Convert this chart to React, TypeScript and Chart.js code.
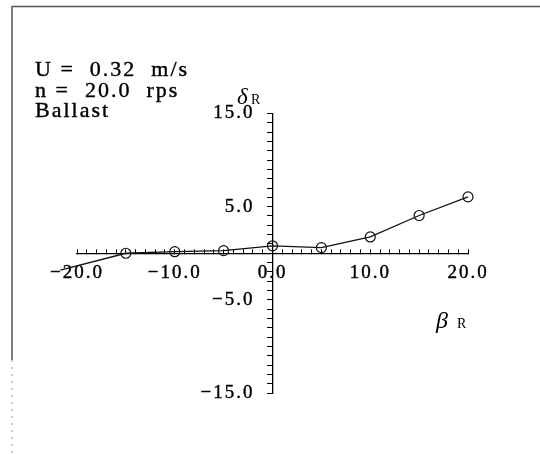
import React, { useEffect, useRef } from "react";
import { Chart, registerables } from "chart.js";

Chart.register(...registerables);

// data
const betaR = [-21.7, -15, -10, -5, 0, 5, 10, 15, 20];
const deltaR = [-1.8, 0.0, 0.17, 0.28, 0.8, 0.6, 1.75, 4.05, 6.05];

const xMin = -20;
const xMax = 20;
const yMin = -15;
const yMax = 15;
const xTickLabels = [-20, -10, 0, 10, 20];
const yTickLabels = [15, 5, -5, -15];
const infoLines = ["U =  0.32  m/s", "n =  20.0  rps", "Ballast"];

const fmt = (v: number) => v.toFixed(1).replace("-", "\u2212");
const SERIF = "'Liberation Serif', 'Times New Roman', serif";
const Y_LABEL_GAP = 18;

const spacingPlugin = {
  id: "spacing",
  beforeLayout(chart: any) {
    chart.ctx.letterSpacing = "2px";
  },
  beforeDraw(chart: any) {
    chart.ctx.letterSpacing = "2px";
  },
};

const framePlugin = {
  id: "frame",
  beforeDraw(chart: any) {
    const ctx = chart.ctx;
    ctx.save();
    ctx.strokeStyle = "#555";
    ctx.lineWidth = 1.5;
    ctx.beginPath();
    ctx.moveTo(12, 6.5);
    ctx.lineTo(540, 6.5);
    ctx.moveTo(12, 6);
    ctx.lineTo(12, 360);
    ctx.stroke();
    ctx.strokeStyle = "#999";
    ctx.lineWidth = 1;
    ctx.setLineDash([2, 5]);
    ctx.beginPath();
    ctx.moveTo(12, 360);
    ctx.lineTo(12, 454);
    ctx.stroke();
    ctx.restore();
  },
  afterDraw(chart: any) {
    const ctx = chart.ctx;
    ctx.save();
    ctx.fillStyle = "#000";
    ctx.strokeStyle = "#000";
    ctx.lineWidth = 0.4;
    ctx.textBaseline = "alphabetic";
    ctx.textAlign = "left";
    ctx.letterSpacing = "2px";
    ctx.font = `22px ${SERIF}`;
    infoLines.forEach((t, i) => {
      ctx.fillText(t, 35, 76 + i * 20.5);
      ctx.strokeText(t, 35, 76 + i * 20.5);
    });
    ctx.letterSpacing = "0px";
    // axis titles
    ctx.font = `italic 23px ${SERIF}`;
    ctx.fillText("\u03b4", 237, 104);
    ctx.font = `14px ${SERIF}`;
    ctx.fillText("R", 251, 104);
    ctx.font = `italic 24px ${SERIF}`;
    ctx.fillText("\u03b2", 436, 328);
    ctx.font = `14px ${SERIF}`;
    ctx.fillText("R", 457, 328);
    ctx.restore();
  },
};

export default function App() {
  const ref = useRef<HTMLCanvasElement>(null);
  useEffect(() => {
    if (!ref.current) return;
    const chart = new Chart(ref.current, {
      type: "line",
      data: {
        datasets: [
          {
            data: betaR.map((x, i) => ({ x, y: deltaR[i] })),
            borderColor: "#111",
            borderWidth: 1.3,
            tension: 0,
            fill: false,
            clip: false as any,
            pointRadius: (c: any) => (c.raw && c.raw.x < xMin ? 0 : 5),
            pointBorderColor: "#111",
            pointBackgroundColor: "rgba(0,0,0,0)",
            pointBorderWidth: 1.2,
          },
        ],
      },
      options: {
        animation: false,
        responsive: false,
        events: [],
        layout: { padding: { left: 77, right: 72, top: 113.5, bottom: 61 } },
        plugins: { legend: { display: false }, tooltip: { enabled: false } },
        scales: {
          x: {
            type: "linear",
            min: xMin,
            max: xMax,
            position: { y: 0 } as any,
            border: { display: true, color: "#000", width: 1.3 },
            grid: {
              drawOnChartArea: false,
              drawTicks: true,
              tickLength: -5,
              color: "#000",
              lineWidth: 1,
            },
            ticks: {
              stepSize: 1,
              autoSkip: false,
              maxRotation: 0,
              padding: 13,
              color: "#000",
              textStrokeColor: "#000",
              textStrokeWidth: 0.4,
              font: { family: SERIF, size: 19 },
              callback: (v: any) => (xTickLabels.includes(Number(v)) ? fmt(Number(v)) : ""),
            },
          },
          y: {
            type: "linear",
            min: yMin,
            max: yMax,
            position: { x: 0 } as any,
            border: { display: true, color: "#000", width: 1.3 },
            grid: {
              drawOnChartArea: false,
              drawTicks: true,
              tickLength: 5,
              color: "#000",
              lineWidth: 1,
            },
            ticks: {
              stepSize: 1,
              autoSkip: false,
              padding: 14,
              color: "#000",
              textStrokeColor: "#000",
              textStrokeWidth: 0.4,
              font: { family: SERIF, size: 19 },
              callback: (v: any) => (yTickLabels.includes(Number(v)) ? fmt(Number(v)) : ""),
            },
            afterUpdate: (scale: any) => {
              if (scale.__patched) return;
              scale.__patched = true;
              const orig = scale._computeLabelItems.bind(scale);
              scale._computeLabelItems = (ca: any) =>
                orig(ca).map((it: any) => ({
                  ...it,
                  options: {
                    ...it.options,
                    translation: [it.options.translation[0] - Y_LABEL_GAP, it.options.translation[1]],
                  },
                }));
            },
          },
        },
      },
      plugins: [spacingPlugin, framePlugin],
    });
    return () => chart.destroy();
  }, []);
  return (
    <div style={{ position: "absolute", left: 0, top: 0, width: 540, height: 454, background: "#fff" }}>
      <canvas ref={ref} width={540} height={454} style={{ display: "block" }} />
    </div>
  );
}
